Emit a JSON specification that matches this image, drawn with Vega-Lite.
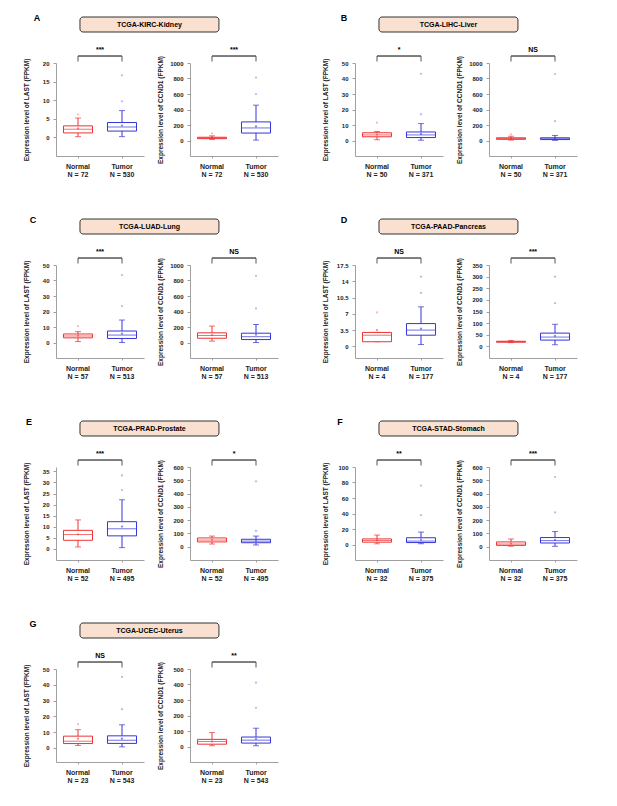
{
"$schema": "https://vega.github.io/schema/vega-lite/v6.json",
"background": "white",
"padding": {"left": 22, "top": 14, "right": 5, "bottom": 5},
"spacing": 39,
"datasets": {
"hdr": [
{"id":"A","title":"TCGA-KIRC-Kidney"},{"id":"B","title":"TCGA-LIHC-Liver"},{"id":"C","title":"TCGA-LUAD-Lung"},{"id":"D","title":"TCGA-PAAD-Pancreas"},{"id":"E","title":"TCGA-PRAD-Prostate"},{"id":"F","title":"TCGA-STAD-Stomach"},{"id":"G","title":"TCGA-UCEC-Uterus"}
],
"stats": [
{"t":"KIRC","gene":"LAST","group":"Normal","lw":0.2,"q1":1.2,"med":2.2,"q3":3.1,"uw":5.2,"mean":2.4,"sig":"***"},
{"t":"KIRC","gene":"LAST","group":"Tumor","lw":0.2,"q1":1.7,"med":2.8,"q3":4.0,"uw":7.2,"mean":3.2,"sig":"***"},
{"t":"KIRC","gene":"CCND1","group":"Normal","lw":12,"q1":24,"med":32,"q3":42,"uw":60,"mean":34,"sig":"***"},
{"t":"KIRC","gene":"CCND1","group":"Tumor","lw":5,"q1":96,"med":162,"q3":240,"uw":456,"mean":182,"sig":"***"},
{"t":"LIHC","gene":"LAST","group":"Normal","lw":0.5,"q1":2.4,"med":3.6,"q3":5.0,"uw":5.8,"mean":3.8,"sig":"*"},
{"t":"LIHC","gene":"LAST","group":"Tumor","lw":0.2,"q1":1.9,"med":3.6,"q3":5.5,"uw":10.9,"mean":4.2,"sig":"*"},
{"t":"LIHC","gene":"CCND1","group":"Normal","lw":5,"q1":15,"med":25,"q3":35,"uw":55,"mean":27,"sig":"NS"},
{"t":"LIHC","gene":"CCND1","group":"Tumor","lw":2,"q1":12,"med":22,"q3":35,"uw":65,"mean":28,"sig":"NS"},
{"t":"LUAD","gene":"LAST","group":"Normal","lw":0.6,"q1":3.0,"med":4.2,"q3":5.5,"uw":7.0,"mean":4.4,"sig":"***"},
{"t":"LUAD","gene":"LAST","group":"Tumor","lw":0,"q1":2.6,"med":4.8,"q3":7.4,"uw":14.5,"mean":5.7,"sig":"***"},
{"t":"LUAD","gene":"CCND1","group":"Normal","lw":18,"q1":55,"med":90,"q3":125,"uw":212,"mean":95,"sig":"NS"},
{"t":"LUAD","gene":"CCND1","group":"Tumor","lw":0,"q1":38,"med":75,"q3":120,"uw":232,"mean":100,"sig":"NS"},
{"t":"PAAD","gene":"LAST","group":"Normal","lw":1.0,"q1":1.0,"med":2.4,"q3":3.0,"uw":3.0,"mean":3.5,"sig":"NS"},
{"t":"PAAD","gene":"LAST","group":"Tumor","lw":0.4,"q1":2.4,"med":3.5,"q3":4.9,"uw":8.5,"mean":3.8,"sig":"NS"},
{"t":"PAAD","gene":"CCND1","group":"Normal","lw":16,"q1":18,"med":20,"q3":22,"uw":25,"mean":20,"sig":"***"},
{"t":"PAAD","gene":"CCND1","group":"Tumor","lw":7,"q1":27,"med":40,"q3":57,"uw":95,"mean":45,"sig":"***"},
{"t":"PRAD","gene":"LAST","group":"Normal","lw":0.9,"q1":3.9,"med":6.5,"q3":8.4,"uw":13.1,"mean":6.6,"sig":"***"},
{"t":"PRAD","gene":"LAST","group":"Tumor","lw":0.6,"q1":5.9,"med":9.1,"q3":12.3,"uw":22.2,"mean":10.1,"sig":"***"},
{"t":"PRAD","gene":"CCND1","group":"Normal","lw":20,"q1":36,"med":50,"q3":66,"uw":80,"mean":52,"sig":"*"},
{"t":"PRAD","gene":"CCND1","group":"Tumor","lw":13,"q1":30,"med":42,"q3":56,"uw":80,"mean":45,"sig":"*"},
{"t":"STAD","gene":"LAST","group":"Normal","lw":0.9,"q1":3.0,"med":5.2,"q3":7.2,"uw":12.2,"mean":5.5,"sig":"**"},
{"t":"STAD","gene":"LAST","group":"Tumor","lw":1.0,"q1":2.5,"med":4.4,"q3":8.7,"uw":16,"mean":6.2,"sig":"**"},
{"t":"STAD","gene":"CCND1","group":"Normal","lw":4,"q1":10,"med":20,"q3":36,"uw":58,"mean":24,"sig":"***"},
{"t":"STAD","gene":"CCND1","group":"Tumor","lw":3,"q1":28,"med":46,"q3":69,"uw":114,"mean":52,"sig":"***"},
{"t":"UCEC","gene":"LAST","group":"Normal","lw":1.5,"q1":2.7,"med":4.2,"q3":7.4,"uw":11.5,"mean":5.8,"sig":"NS"},
{"t":"UCEC","gene":"LAST","group":"Tumor","lw":0.6,"q1":2.8,"med":4.8,"q3":7.6,"uw":14.6,"mean":5.8,"sig":"NS"},
{"t":"UCEC","gene":"CCND1","group":"Normal","lw":5,"q1":15,"med":32,"q3":46,"uw":90,"mean":33,"sig":"**"},
{"t":"UCEC","gene":"CCND1","group":"Tumor","lw":5,"q1":22,"med":41,"q3":61,"uw":118,"mean":48,"sig":"**"}
],
"outl": [
{"t":"KIRC","gene":"LAST","group":"Normal","v":6.2},
{"t":"KIRC","gene":"LAST","group":"Tumor","v":9.7},
{"t":"KIRC","gene":"LAST","group":"Tumor","v":16.7},
{"t":"KIRC","gene":"CCND1","group":"Normal","v":92},
{"t":"KIRC","gene":"CCND1","group":"Tumor","v":600},
{"t":"KIRC","gene":"CCND1","group":"Tumor","v":812},
{"t":"LIHC","gene":"LAST","group":"Normal","v":11.5},
{"t":"LIHC","gene":"LAST","group":"Tumor","v":17},
{"t":"LIHC","gene":"LAST","group":"Tumor","v":43},
{"t":"LIHC","gene":"CCND1","group":"Normal","v":80},
{"t":"LIHC","gene":"CCND1","group":"Tumor","v":250},
{"t":"LIHC","gene":"CCND1","group":"Tumor","v":858},
{"t":"LUAD","gene":"LAST","group":"Normal","v":10.5},
{"t":"LUAD","gene":"LAST","group":"Tumor","v":23.5},
{"t":"LUAD","gene":"LAST","group":"Tumor","v":43.5},
{"t":"LUAD","gene":"CCND1","group":"Tumor","v":440},
{"t":"LUAD","gene":"CCND1","group":"Tumor","v":860},
{"t":"PAAD","gene":"LAST","group":"Normal","v":7.3},
{"t":"PAAD","gene":"LAST","group":"Tumor","v":11.5},
{"t":"PAAD","gene":"LAST","group":"Tumor","v":15},
{"t":"PAAD","gene":"CCND1","group":"Tumor","v":186},
{"t":"PAAD","gene":"CCND1","group":"Tumor","v":300},
{"t":"PRAD","gene":"LAST","group":"Tumor","v":26.6},
{"t":"PRAD","gene":"LAST","group":"Tumor","v":33.2},
{"t":"PRAD","gene":"CCND1","group":"Tumor","v":119},
{"t":"PRAD","gene":"CCND1","group":"Tumor","v":492},
{"t":"STAD","gene":"LAST","group":"Tumor","v":38},
{"t":"STAD","gene":"LAST","group":"Tumor","v":76},
{"t":"STAD","gene":"CCND1","group":"Tumor","v":258},
{"t":"STAD","gene":"CCND1","group":"Tumor","v":524},
{"t":"UCEC","gene":"LAST","group":"Normal","v":15},
{"t":"UCEC","gene":"LAST","group":"Tumor","v":24.5},
{"t":"UCEC","gene":"LAST","group":"Tumor","v":45},
{"t":"UCEC","gene":"CCND1","group":"Tumor","v":250},
{"t":"UCEC","gene":"CCND1","group":"Tumor","v":412}
]
},
"vconcat": [
{"hconcat": [
 {"spacing": 13, "vconcat": [
  {"width":222,"height":15,"data":{"name":"hdr"},"transform":[{"filter":"datum.id=='A'"}],"layer":[
   {"mark":{"type":"rect","fill":"#f9e0d0","stroke":"#333333","strokeWidth":1,"cornerRadius":3},"encoding":{"x":{"datum":0.108,"type":"quantitative","scale":{"domain":[0,1],"nice":false},"axis":null},"x2":{"datum":0.734},"y":{"datum":0,"type":"quantitative","scale":{"domain":[0,1],"nice":false},"axis":null},"y2":{"datum":1}}},
   {"mark":{"type":"text","fontSize":7,"fontWeight":"bold"},"encoding":{"x":{"datum":0.421,"type":"quantitative"},"y":{"datum":0.5,"type":"quantitative"},"text":{"field":"title"}}},
   {"mark":{"type":"text","fontSize":9,"fontWeight":"bold"},"encoding":{"x":{"datum":-0.0856,"type":"quantitative"},"y":{"datum":0.93,"type":"quantitative"},"text":{"field":"id"}}}
  ]},
  {"hconcat": [
   {"width":88,"height":93,"data":{"name":"stats"},"transform":[{"filter":"datum.t=='KIRC' && datum.gene=='LAST'"}],"layer":[
    {"layer":[
     {"mark":{"type":"rule","strokeWidth":1},"encoding":{"x":{"field":"group","type":"nominal","scale":{"domain":["Normal","Tumor"],"paddingInner":0.34,"paddingOuter":0.17},"axis":{"title":null,"labelExpr":"datum.value=='Normal' ? ['Normal','N = 72'] : ['Tumor','N = 530']"}},"y":{"field":"lw","type":"quantitative","scale":{"domain":[-5,20],"nice":false,"zero":false},"axis":{"values":[0,5,10,15,20],"format":".1~f","labelOverlap":false,"tickCount":20,"title":"Expression level of LAST (FPKM)","titleX":-30,"titleBaseline":"middle"}},"y2":{"field":"uw"},"color":{"field":"group","type":"nominal","legend":null}}},
     {"mark":{"type":"tick","size":6,"thickness":1},"encoding":{"x":{"field":"group","type":"nominal"},"y":{"field":"lw","type":"quantitative"},"color":{"field":"group","type":"nominal","legend":null}}},
     {"mark":{"type":"tick","size":6,"thickness":1},"encoding":{"x":{"field":"group","type":"nominal"},"y":{"field":"uw","type":"quantitative"},"color":{"field":"group","type":"nominal","legend":null}}},
     {"mark":{"type":"bar","fill":"white","strokeWidth":1},"encoding":{"x":{"field":"group","type":"nominal"},"y":{"field":"q1","type":"quantitative"},"y2":{"field":"q3"},"stroke":{"field":"group","type":"nominal","legend":null}}},
     {"mark":{"type":"tick","size":29,"thickness":1},"encoding":{"x":{"field":"group","type":"nominal"},"y":{"field":"med","type":"quantitative"},"color":{"field":"group","type":"nominal","legend":null}}},
     {"mark":{"type":"circle","size":5,"opacity":0.6},"encoding":{"x":{"field":"group","type":"nominal"},"y":{"field":"mean","type":"quantitative"},"color":{"field":"group","type":"nominal","legend":null}}},
     {"data":{"name":"outl"},"transform":[{"filter":"datum.t=='KIRC' && datum.gene=='LAST'"}],"mark":{"type":"circle","size":5,"opacity":0.35},"encoding":{"x":{"field":"group","type":"nominal"},"y":{"field":"v","type":"quantitative"},"color":{"field":"group","type":"nominal","legend":null}}}
    ]},
    {"layer":[
     {"mark":{"type":"rule","color":"#555555","strokeWidth":1},"encoding":{"x":{"field":"group","type":"nominal"},"y":{"datum":1.016,"type":"quantitative","scale":{"domain":[0,1],"nice":false},"axis":null},"y2":{"datum":1.075}}},
     {"mark":{"type":"rule","color":"#555555","strokeWidth":1},"encoding":{"x":{"datum":"Normal","type":"nominal"},"x2":{"datum":"Tumor"},"y":{"datum":1.075,"type":"quantitative"}}},
     {"transform":[{"filter":"datum.group=='Normal'"}],"mark":{"type":"text","fontSize":7,"fontWeight":"bold","baseline":"alphabetic"},"encoding":{"y":{"datum":1.115,"type":"quantitative"},"text":{"field":"sig"}}}
    ]}
   ],"resolve":{"scale":{"y":"independent"}}},
   {"width":88,"height":93,"data":{"name":"stats"},"transform":[{"filter":"datum.t=='KIRC' && datum.gene=='CCND1'"}],"layer":[
    {"layer":[
     {"mark":{"type":"rule","strokeWidth":1},"encoding":{"x":{"field":"group","type":"nominal","scale":{"domain":["Normal","Tumor"],"paddingInner":0.34,"paddingOuter":0.17},"axis":{"title":null,"labelExpr":"datum.value=='Normal' ? ['Normal','N = 72'] : ['Tumor','N = 530']"}},"y":{"field":"lw","type":"quantitative","scale":{"domain":[-200,1000],"nice":false,"zero":false},"axis":{"values":[0,200,400,600,800,1000],"format":".1~f","labelOverlap":false,"tickCount":20,"title":"Expression level of CCND1 (FPKM)","titleX":-30,"titleBaseline":"middle"}},"y2":{"field":"uw"},"color":{"field":"group","type":"nominal","legend":null}}},
     {"mark":{"type":"tick","size":6,"thickness":1},"encoding":{"x":{"field":"group","type":"nominal"},"y":{"field":"lw","type":"quantitative"},"color":{"field":"group","type":"nominal","legend":null}}},
     {"mark":{"type":"tick","size":6,"thickness":1},"encoding":{"x":{"field":"group","type":"nominal"},"y":{"field":"uw","type":"quantitative"},"color":{"field":"group","type":"nominal","legend":null}}},
     {"mark":{"type":"bar","fill":"white","strokeWidth":1},"encoding":{"x":{"field":"group","type":"nominal"},"y":{"field":"q1","type":"quantitative"},"y2":{"field":"q3"},"stroke":{"field":"group","type":"nominal","legend":null}}},
     {"mark":{"type":"tick","size":29,"thickness":1},"encoding":{"x":{"field":"group","type":"nominal"},"y":{"field":"med","type":"quantitative"},"color":{"field":"group","type":"nominal","legend":null}}},
     {"mark":{"type":"circle","size":5,"opacity":0.6},"encoding":{"x":{"field":"group","type":"nominal"},"y":{"field":"mean","type":"quantitative"},"color":{"field":"group","type":"nominal","legend":null}}},
     {"data":{"name":"outl"},"transform":[{"filter":"datum.t=='KIRC' && datum.gene=='CCND1'"}],"mark":{"type":"circle","size":5,"opacity":0.35},"encoding":{"x":{"field":"group","type":"nominal"},"y":{"field":"v","type":"quantitative"},"color":{"field":"group","type":"nominal","legend":null}}}
    ]},
    {"layer":[
     {"mark":{"type":"rule","color":"#555555","strokeWidth":1},"encoding":{"x":{"field":"group","type":"nominal"},"y":{"datum":1.016,"type":"quantitative","scale":{"domain":[0,1],"nice":false},"axis":null},"y2":{"datum":1.075}}},
     {"mark":{"type":"rule","color":"#555555","strokeWidth":1},"encoding":{"x":{"datum":"Normal","type":"nominal"},"x2":{"datum":"Tumor"},"y":{"datum":1.075,"type":"quantitative"}}},
     {"transform":[{"filter":"datum.group=='Normal'"}],"mark":{"type":"text","fontSize":7,"fontWeight":"bold","baseline":"alphabetic"},"encoding":{"y":{"datum":1.115,"type":"quantitative"},"text":{"field":"sig"}}}
    ]}
   ],"resolve":{"scale":{"y":"independent"}}}
  ], "spacing": 46, "bounds": "flush"}
 ]},
 {"spacing": 13, "vconcat": [
  {"width":222,"height":15,"data":{"name":"hdr"},"transform":[{"filter":"datum.id=='B'"}],"layer":[
   {"mark":{"type":"rect","fill":"#f9e0d0","stroke":"#333333","strokeWidth":1,"cornerRadius":3},"encoding":{"x":{"datum":0.108,"type":"quantitative","scale":{"domain":[0,1],"nice":false},"axis":null},"x2":{"datum":0.734},"y":{"datum":0,"type":"quantitative","scale":{"domain":[0,1],"nice":false},"axis":null},"y2":{"datum":1}}},
   {"mark":{"type":"text","fontSize":7,"fontWeight":"bold"},"encoding":{"x":{"datum":0.421,"type":"quantitative"},"y":{"datum":0.5,"type":"quantitative"},"text":{"field":"title"}}},
   {"mark":{"type":"text","fontSize":9,"fontWeight":"bold"},"encoding":{"x":{"datum":-0.0495,"type":"quantitative"},"y":{"datum":0.93,"type":"quantitative"},"text":{"field":"id"}}}
  ]},
  {"hconcat": [
   {"width":88,"height":93,"data":{"name":"stats"},"transform":[{"filter":"datum.t=='LIHC' && datum.gene=='LAST'"}],"layer":[
    {"layer":[
     {"mark":{"type":"rule","strokeWidth":1},"encoding":{"x":{"field":"group","type":"nominal","scale":{"domain":["Normal","Tumor"],"paddingInner":0.34,"paddingOuter":0.17},"axis":{"title":null,"labelExpr":"datum.value=='Normal' ? ['Normal','N = 50'] : ['Tumor','N = 371']"}},"y":{"field":"lw","type":"quantitative","scale":{"domain":[-10,50],"nice":false,"zero":false},"axis":{"values":[0,10,20,30,40,50],"format":".1~f","labelOverlap":false,"tickCount":20,"title":"Expression level of LAST (FPKM)","titleX":-30,"titleBaseline":"middle"}},"y2":{"field":"uw"},"color":{"field":"group","type":"nominal","legend":null}}},
     {"mark":{"type":"tick","size":6,"thickness":1},"encoding":{"x":{"field":"group","type":"nominal"},"y":{"field":"lw","type":"quantitative"},"color":{"field":"group","type":"nominal","legend":null}}},
     {"mark":{"type":"tick","size":6,"thickness":1},"encoding":{"x":{"field":"group","type":"nominal"},"y":{"field":"uw","type":"quantitative"},"color":{"field":"group","type":"nominal","legend":null}}},
     {"mark":{"type":"bar","fill":"white","strokeWidth":1},"encoding":{"x":{"field":"group","type":"nominal"},"y":{"field":"q1","type":"quantitative"},"y2":{"field":"q3"},"stroke":{"field":"group","type":"nominal","legend":null}}},
     {"mark":{"type":"tick","size":29,"thickness":1},"encoding":{"x":{"field":"group","type":"nominal"},"y":{"field":"med","type":"quantitative"},"color":{"field":"group","type":"nominal","legend":null}}},
     {"mark":{"type":"circle","size":5,"opacity":0.6},"encoding":{"x":{"field":"group","type":"nominal"},"y":{"field":"mean","type":"quantitative"},"color":{"field":"group","type":"nominal","legend":null}}},
     {"data":{"name":"outl"},"transform":[{"filter":"datum.t=='LIHC' && datum.gene=='LAST'"}],"mark":{"type":"circle","size":5,"opacity":0.35},"encoding":{"x":{"field":"group","type":"nominal"},"y":{"field":"v","type":"quantitative"},"color":{"field":"group","type":"nominal","legend":null}}}
    ]},
    {"layer":[
     {"mark":{"type":"rule","color":"#555555","strokeWidth":1},"encoding":{"x":{"field":"group","type":"nominal"},"y":{"datum":1.016,"type":"quantitative","scale":{"domain":[0,1],"nice":false},"axis":null},"y2":{"datum":1.075}}},
     {"mark":{"type":"rule","color":"#555555","strokeWidth":1},"encoding":{"x":{"datum":"Normal","type":"nominal"},"x2":{"datum":"Tumor"},"y":{"datum":1.075,"type":"quantitative"}}},
     {"transform":[{"filter":"datum.group=='Normal'"}],"mark":{"type":"text","fontSize":7,"fontWeight":"bold","baseline":"alphabetic"},"encoding":{"y":{"datum":1.115,"type":"quantitative"},"text":{"field":"sig"}}}
    ]}
   ],"resolve":{"scale":{"y":"independent"}}},
   {"width":88,"height":93,"data":{"name":"stats"},"transform":[{"filter":"datum.t=='LIHC' && datum.gene=='CCND1'"}],"layer":[
    {"layer":[
     {"mark":{"type":"rule","strokeWidth":1},"encoding":{"x":{"field":"group","type":"nominal","scale":{"domain":["Normal","Tumor"],"paddingInner":0.34,"paddingOuter":0.17},"axis":{"title":null,"labelExpr":"datum.value=='Normal' ? ['Normal','N = 50'] : ['Tumor','N = 371']"}},"y":{"field":"lw","type":"quantitative","scale":{"domain":[-200,1000],"nice":false,"zero":false},"axis":{"values":[0,200,400,600,800,1000],"format":".1~f","labelOverlap":false,"tickCount":20,"title":"Expression level of CCND1 (FPKM)","titleX":-30,"titleBaseline":"middle"}},"y2":{"field":"uw"},"color":{"field":"group","type":"nominal","legend":null}}},
     {"mark":{"type":"tick","size":6,"thickness":1},"encoding":{"x":{"field":"group","type":"nominal"},"y":{"field":"lw","type":"quantitative"},"color":{"field":"group","type":"nominal","legend":null}}},
     {"mark":{"type":"tick","size":6,"thickness":1},"encoding":{"x":{"field":"group","type":"nominal"},"y":{"field":"uw","type":"quantitative"},"color":{"field":"group","type":"nominal","legend":null}}},
     {"mark":{"type":"bar","fill":"white","strokeWidth":1},"encoding":{"x":{"field":"group","type":"nominal"},"y":{"field":"q1","type":"quantitative"},"y2":{"field":"q3"},"stroke":{"field":"group","type":"nominal","legend":null}}},
     {"mark":{"type":"tick","size":29,"thickness":1},"encoding":{"x":{"field":"group","type":"nominal"},"y":{"field":"med","type":"quantitative"},"color":{"field":"group","type":"nominal","legend":null}}},
     {"mark":{"type":"circle","size":5,"opacity":0.6},"encoding":{"x":{"field":"group","type":"nominal"},"y":{"field":"mean","type":"quantitative"},"color":{"field":"group","type":"nominal","legend":null}}},
     {"data":{"name":"outl"},"transform":[{"filter":"datum.t=='LIHC' && datum.gene=='CCND1'"}],"mark":{"type":"circle","size":5,"opacity":0.35},"encoding":{"x":{"field":"group","type":"nominal"},"y":{"field":"v","type":"quantitative"},"color":{"field":"group","type":"nominal","legend":null}}}
    ]},
    {"layer":[
     {"mark":{"type":"rule","color":"#555555","strokeWidth":1},"encoding":{"x":{"field":"group","type":"nominal"},"y":{"datum":1.016,"type":"quantitative","scale":{"domain":[0,1],"nice":false},"axis":null},"y2":{"datum":1.075}}},
     {"mark":{"type":"rule","color":"#555555","strokeWidth":1},"encoding":{"x":{"datum":"Normal","type":"nominal"},"x2":{"datum":"Tumor"},"y":{"datum":1.075,"type":"quantitative"}}},
     {"transform":[{"filter":"datum.group=='Normal'"}],"mark":{"type":"text","fontSize":7,"fontWeight":"bold","baseline":"alphabetic"},"encoding":{"y":{"datum":1.115,"type":"quantitative"},"text":{"field":"sig"}}}
    ]}
   ],"resolve":{"scale":{"y":"independent"}}}
  ], "spacing": 46, "bounds": "flush"}
 ]}
], "spacing": 43},
{"hconcat": [
 {"spacing": 13, "vconcat": [
  {"width":222,"height":15,"data":{"name":"hdr"},"transform":[{"filter":"datum.id=='C'"}],"layer":[
   {"mark":{"type":"rect","fill":"#f9e0d0","stroke":"#333333","strokeWidth":1,"cornerRadius":3},"encoding":{"x":{"datum":0.108,"type":"quantitative","scale":{"domain":[0,1],"nice":false},"axis":null},"x2":{"datum":0.734},"y":{"datum":0,"type":"quantitative","scale":{"domain":[0,1],"nice":false},"axis":null},"y2":{"datum":1}}},
   {"mark":{"type":"text","fontSize":7,"fontWeight":"bold"},"encoding":{"x":{"datum":0.421,"type":"quantitative"},"y":{"datum":0.5,"type":"quantitative"},"text":{"field":"title"}}},
   {"mark":{"type":"text","fontSize":9,"fontWeight":"bold"},"encoding":{"x":{"datum":-0.1036,"type":"quantitative"},"y":{"datum":0.93,"type":"quantitative"},"text":{"field":"id"}}}
  ]},
  {"hconcat": [
   {"width":88,"height":93,"data":{"name":"stats"},"transform":[{"filter":"datum.t=='LUAD' && datum.gene=='LAST'"}],"layer":[
    {"layer":[
     {"mark":{"type":"rule","strokeWidth":1},"encoding":{"x":{"field":"group","type":"nominal","scale":{"domain":["Normal","Tumor"],"paddingInner":0.34,"paddingOuter":0.17},"axis":{"title":null,"labelExpr":"datum.value=='Normal' ? ['Normal','N = 57'] : ['Tumor','N = 513']"}},"y":{"field":"lw","type":"quantitative","scale":{"domain":[-10,50],"nice":false,"zero":false},"axis":{"values":[0,10,20,30,40,50],"format":".1~f","labelOverlap":false,"tickCount":20,"title":"Expression level of LAST (FPKM)","titleX":-30,"titleBaseline":"middle"}},"y2":{"field":"uw"},"color":{"field":"group","type":"nominal","legend":null}}},
     {"mark":{"type":"tick","size":6,"thickness":1},"encoding":{"x":{"field":"group","type":"nominal"},"y":{"field":"lw","type":"quantitative"},"color":{"field":"group","type":"nominal","legend":null}}},
     {"mark":{"type":"tick","size":6,"thickness":1},"encoding":{"x":{"field":"group","type":"nominal"},"y":{"field":"uw","type":"quantitative"},"color":{"field":"group","type":"nominal","legend":null}}},
     {"mark":{"type":"bar","fill":"white","strokeWidth":1},"encoding":{"x":{"field":"group","type":"nominal"},"y":{"field":"q1","type":"quantitative"},"y2":{"field":"q3"},"stroke":{"field":"group","type":"nominal","legend":null}}},
     {"mark":{"type":"tick","size":29,"thickness":1},"encoding":{"x":{"field":"group","type":"nominal"},"y":{"field":"med","type":"quantitative"},"color":{"field":"group","type":"nominal","legend":null}}},
     {"mark":{"type":"circle","size":5,"opacity":0.6},"encoding":{"x":{"field":"group","type":"nominal"},"y":{"field":"mean","type":"quantitative"},"color":{"field":"group","type":"nominal","legend":null}}},
     {"data":{"name":"outl"},"transform":[{"filter":"datum.t=='LUAD' && datum.gene=='LAST'"}],"mark":{"type":"circle","size":5,"opacity":0.35},"encoding":{"x":{"field":"group","type":"nominal"},"y":{"field":"v","type":"quantitative"},"color":{"field":"group","type":"nominal","legend":null}}}
    ]},
    {"layer":[
     {"mark":{"type":"rule","color":"#555555","strokeWidth":1},"encoding":{"x":{"field":"group","type":"nominal"},"y":{"datum":1.016,"type":"quantitative","scale":{"domain":[0,1],"nice":false},"axis":null},"y2":{"datum":1.075}}},
     {"mark":{"type":"rule","color":"#555555","strokeWidth":1},"encoding":{"x":{"datum":"Normal","type":"nominal"},"x2":{"datum":"Tumor"},"y":{"datum":1.075,"type":"quantitative"}}},
     {"transform":[{"filter":"datum.group=='Normal'"}],"mark":{"type":"text","fontSize":7,"fontWeight":"bold","baseline":"alphabetic"},"encoding":{"y":{"datum":1.115,"type":"quantitative"},"text":{"field":"sig"}}}
    ]}
   ],"resolve":{"scale":{"y":"independent"}}},
   {"width":88,"height":93,"data":{"name":"stats"},"transform":[{"filter":"datum.t=='LUAD' && datum.gene=='CCND1'"}],"layer":[
    {"layer":[
     {"mark":{"type":"rule","strokeWidth":1},"encoding":{"x":{"field":"group","type":"nominal","scale":{"domain":["Normal","Tumor"],"paddingInner":0.34,"paddingOuter":0.17},"axis":{"title":null,"labelExpr":"datum.value=='Normal' ? ['Normal','N = 57'] : ['Tumor','N = 513']"}},"y":{"field":"lw","type":"quantitative","scale":{"domain":[-200,1000],"nice":false,"zero":false},"axis":{"values":[0,200,400,600,800,1000],"format":".1~f","labelOverlap":false,"tickCount":20,"title":"Expression level of CCND1 (FPKM)","titleX":-30,"titleBaseline":"middle"}},"y2":{"field":"uw"},"color":{"field":"group","type":"nominal","legend":null}}},
     {"mark":{"type":"tick","size":6,"thickness":1},"encoding":{"x":{"field":"group","type":"nominal"},"y":{"field":"lw","type":"quantitative"},"color":{"field":"group","type":"nominal","legend":null}}},
     {"mark":{"type":"tick","size":6,"thickness":1},"encoding":{"x":{"field":"group","type":"nominal"},"y":{"field":"uw","type":"quantitative"},"color":{"field":"group","type":"nominal","legend":null}}},
     {"mark":{"type":"bar","fill":"white","strokeWidth":1},"encoding":{"x":{"field":"group","type":"nominal"},"y":{"field":"q1","type":"quantitative"},"y2":{"field":"q3"},"stroke":{"field":"group","type":"nominal","legend":null}}},
     {"mark":{"type":"tick","size":29,"thickness":1},"encoding":{"x":{"field":"group","type":"nominal"},"y":{"field":"med","type":"quantitative"},"color":{"field":"group","type":"nominal","legend":null}}},
     {"mark":{"type":"circle","size":5,"opacity":0.6},"encoding":{"x":{"field":"group","type":"nominal"},"y":{"field":"mean","type":"quantitative"},"color":{"field":"group","type":"nominal","legend":null}}},
     {"data":{"name":"outl"},"transform":[{"filter":"datum.t=='LUAD' && datum.gene=='CCND1'"}],"mark":{"type":"circle","size":5,"opacity":0.35},"encoding":{"x":{"field":"group","type":"nominal"},"y":{"field":"v","type":"quantitative"},"color":{"field":"group","type":"nominal","legend":null}}}
    ]},
    {"layer":[
     {"mark":{"type":"rule","color":"#555555","strokeWidth":1},"encoding":{"x":{"field":"group","type":"nominal"},"y":{"datum":1.016,"type":"quantitative","scale":{"domain":[0,1],"nice":false},"axis":null},"y2":{"datum":1.075}}},
     {"mark":{"type":"rule","color":"#555555","strokeWidth":1},"encoding":{"x":{"datum":"Normal","type":"nominal"},"x2":{"datum":"Tumor"},"y":{"datum":1.075,"type":"quantitative"}}},
     {"transform":[{"filter":"datum.group=='Normal'"}],"mark":{"type":"text","fontSize":7,"fontWeight":"bold","baseline":"alphabetic"},"encoding":{"y":{"datum":1.115,"type":"quantitative"},"text":{"field":"sig"}}}
    ]}
   ],"resolve":{"scale":{"y":"independent"}}}
  ], "spacing": 46, "bounds": "flush"}
 ]},
 {"spacing": 13, "vconcat": [
  {"width":222,"height":15,"data":{"name":"hdr"},"transform":[{"filter":"datum.id=='D'"}],"layer":[
   {"mark":{"type":"rect","fill":"#f9e0d0","stroke":"#333333","strokeWidth":1,"cornerRadius":3},"encoding":{"x":{"datum":0.108,"type":"quantitative","scale":{"domain":[0,1],"nice":false},"axis":null},"x2":{"datum":0.734},"y":{"datum":0,"type":"quantitative","scale":{"domain":[0,1],"nice":false},"axis":null},"y2":{"datum":1}}},
   {"mark":{"type":"text","fontSize":7,"fontWeight":"bold"},"encoding":{"x":{"datum":0.421,"type":"quantitative"},"y":{"datum":0.5,"type":"quantitative"},"text":{"field":"title"}}},
   {"mark":{"type":"text","fontSize":9,"fontWeight":"bold"},"encoding":{"x":{"datum":-0.0495,"type":"quantitative"},"y":{"datum":0.93,"type":"quantitative"},"text":{"field":"id"}}}
  ]},
  {"hconcat": [
   {"width":88,"height":93,"data":{"name":"stats"},"transform":[{"filter":"datum.t=='PAAD' && datum.gene=='LAST'"}],"layer":[
    {"layer":[
     {"mark":{"type":"rule","strokeWidth":1},"encoding":{"x":{"field":"group","type":"nominal","scale":{"domain":["Normal","Tumor"],"paddingInner":0.34,"paddingOuter":0.17},"axis":{"title":null,"labelExpr":"datum.value=='Normal' ? ['Normal','N = 4'] : ['Tumor','N = 177']"}},"y":{"field":"lw","type":"quantitative","scale":{"domain":[-2.5,17.5],"nice":false,"zero":false},"axis":{"values":[0,3.5,7,10.5,14,17.5],"format":".1~f","labelOverlap":false,"tickCount":20,"title":"Expression level of LAST (FPKM)","titleX":-30,"titleBaseline":"middle"}},"y2":{"field":"uw"},"color":{"field":"group","type":"nominal","legend":null}}},
     {"mark":{"type":"tick","size":6,"thickness":1},"encoding":{"x":{"field":"group","type":"nominal"},"y":{"field":"lw","type":"quantitative"},"color":{"field":"group","type":"nominal","legend":null}}},
     {"mark":{"type":"tick","size":6,"thickness":1},"encoding":{"x":{"field":"group","type":"nominal"},"y":{"field":"uw","type":"quantitative"},"color":{"field":"group","type":"nominal","legend":null}}},
     {"mark":{"type":"bar","fill":"white","strokeWidth":1},"encoding":{"x":{"field":"group","type":"nominal"},"y":{"field":"q1","type":"quantitative"},"y2":{"field":"q3"},"stroke":{"field":"group","type":"nominal","legend":null}}},
     {"mark":{"type":"tick","size":29,"thickness":1},"encoding":{"x":{"field":"group","type":"nominal"},"y":{"field":"med","type":"quantitative"},"color":{"field":"group","type":"nominal","legend":null}}},
     {"mark":{"type":"circle","size":5,"opacity":0.6},"encoding":{"x":{"field":"group","type":"nominal"},"y":{"field":"mean","type":"quantitative"},"color":{"field":"group","type":"nominal","legend":null}}},
     {"data":{"name":"outl"},"transform":[{"filter":"datum.t=='PAAD' && datum.gene=='LAST'"}],"mark":{"type":"circle","size":5,"opacity":0.35},"encoding":{"x":{"field":"group","type":"nominal"},"y":{"field":"v","type":"quantitative"},"color":{"field":"group","type":"nominal","legend":null}}}
    ]},
    {"layer":[
     {"mark":{"type":"rule","color":"#555555","strokeWidth":1},"encoding":{"x":{"field":"group","type":"nominal"},"y":{"datum":1.016,"type":"quantitative","scale":{"domain":[0,1],"nice":false},"axis":null},"y2":{"datum":1.075}}},
     {"mark":{"type":"rule","color":"#555555","strokeWidth":1},"encoding":{"x":{"datum":"Normal","type":"nominal"},"x2":{"datum":"Tumor"},"y":{"datum":1.075,"type":"quantitative"}}},
     {"transform":[{"filter":"datum.group=='Normal'"}],"mark":{"type":"text","fontSize":7,"fontWeight":"bold","baseline":"alphabetic"},"encoding":{"y":{"datum":1.115,"type":"quantitative"},"text":{"field":"sig"}}}
    ]}
   ],"resolve":{"scale":{"y":"independent"}}},
   {"width":88,"height":93,"data":{"name":"stats"},"transform":[{"filter":"datum.t=='PAAD' && datum.gene=='CCND1'"}],"layer":[
    {"layer":[
     {"mark":{"type":"rule","strokeWidth":1},"encoding":{"x":{"field":"group","type":"nominal","scale":{"domain":["Normal","Tumor"],"paddingInner":0.34,"paddingOuter":0.17},"axis":{"title":null,"labelExpr":"datum.value=='Normal' ? ['Normal','N = 4'] : ['Tumor','N = 177']"}},"y":{"field":"lw","type":"quantitative","scale":{"domain":[-50,350],"nice":false,"zero":false},"axis":{"values":[0,50,100,150,200,250,300,350],"format":".1~f","labelOverlap":false,"tickCount":20,"title":"Expression level of CCND1 (FPKM)","titleX":-30,"titleBaseline":"middle"}},"y2":{"field":"uw"},"color":{"field":"group","type":"nominal","legend":null}}},
     {"mark":{"type":"tick","size":6,"thickness":1},"encoding":{"x":{"field":"group","type":"nominal"},"y":{"field":"lw","type":"quantitative"},"color":{"field":"group","type":"nominal","legend":null}}},
     {"mark":{"type":"tick","size":6,"thickness":1},"encoding":{"x":{"field":"group","type":"nominal"},"y":{"field":"uw","type":"quantitative"},"color":{"field":"group","type":"nominal","legend":null}}},
     {"mark":{"type":"bar","fill":"white","strokeWidth":1},"encoding":{"x":{"field":"group","type":"nominal"},"y":{"field":"q1","type":"quantitative"},"y2":{"field":"q3"},"stroke":{"field":"group","type":"nominal","legend":null}}},
     {"mark":{"type":"tick","size":29,"thickness":1},"encoding":{"x":{"field":"group","type":"nominal"},"y":{"field":"med","type":"quantitative"},"color":{"field":"group","type":"nominal","legend":null}}},
     {"mark":{"type":"circle","size":5,"opacity":0.6},"encoding":{"x":{"field":"group","type":"nominal"},"y":{"field":"mean","type":"quantitative"},"color":{"field":"group","type":"nominal","legend":null}}},
     {"data":{"name":"outl"},"transform":[{"filter":"datum.t=='PAAD' && datum.gene=='CCND1'"}],"mark":{"type":"circle","size":5,"opacity":0.35},"encoding":{"x":{"field":"group","type":"nominal"},"y":{"field":"v","type":"quantitative"},"color":{"field":"group","type":"nominal","legend":null}}}
    ]},
    {"layer":[
     {"mark":{"type":"rule","color":"#555555","strokeWidth":1},"encoding":{"x":{"field":"group","type":"nominal"},"y":{"datum":1.016,"type":"quantitative","scale":{"domain":[0,1],"nice":false},"axis":null},"y2":{"datum":1.075}}},
     {"mark":{"type":"rule","color":"#555555","strokeWidth":1},"encoding":{"x":{"datum":"Normal","type":"nominal"},"x2":{"datum":"Tumor"},"y":{"datum":1.075,"type":"quantitative"}}},
     {"transform":[{"filter":"datum.group=='Normal'"}],"mark":{"type":"text","fontSize":7,"fontWeight":"bold","baseline":"alphabetic"},"encoding":{"y":{"datum":1.115,"type":"quantitative"},"text":{"field":"sig"}}}
    ]}
   ],"resolve":{"scale":{"y":"independent"}}}
  ], "spacing": 46, "bounds": "flush"}
 ]}
], "spacing": 43},
{"hconcat": [
 {"spacing": 13, "vconcat": [
  {"width":222,"height":15,"data":{"name":"hdr"},"transform":[{"filter":"datum.id=='E'"}],"layer":[
   {"mark":{"type":"rect","fill":"#f9e0d0","stroke":"#333333","strokeWidth":1,"cornerRadius":3},"encoding":{"x":{"datum":0.108,"type":"quantitative","scale":{"domain":[0,1],"nice":false},"axis":null},"x2":{"datum":0.734},"y":{"datum":0,"type":"quantitative","scale":{"domain":[0,1],"nice":false},"axis":null},"y2":{"datum":1}}},
   {"mark":{"type":"text","fontSize":7,"fontWeight":"bold"},"encoding":{"x":{"datum":0.421,"type":"quantitative"},"y":{"datum":0.5,"type":"quantitative"},"text":{"field":"title"}}},
   {"mark":{"type":"text","fontSize":9,"fontWeight":"bold"},"encoding":{"x":{"datum":-0.1216,"type":"quantitative"},"y":{"datum":0.93,"type":"quantitative"},"text":{"field":"id"}}}
  ]},
  {"hconcat": [
   {"width":88,"height":93,"data":{"name":"stats"},"transform":[{"filter":"datum.t=='PRAD' && datum.gene=='LAST'"}],"layer":[
    {"layer":[
     {"mark":{"type":"rule","strokeWidth":1},"encoding":{"x":{"field":"group","type":"nominal","scale":{"domain":["Normal","Tumor"],"paddingInner":0.34,"paddingOuter":0.17},"axis":{"title":null,"labelExpr":"datum.value=='Normal' ? ['Normal','N = 52'] : ['Tumor','N = 495']"}},"y":{"field":"lw","type":"quantitative","scale":{"domain":[-5,37],"nice":false,"zero":false},"axis":{"values":[0,5,10,15,20,25,30,35],"format":".1~f","labelOverlap":false,"tickCount":20,"title":"Expression level of LAST (FPKM)","titleX":-30,"titleBaseline":"middle"}},"y2":{"field":"uw"},"color":{"field":"group","type":"nominal","legend":null}}},
     {"mark":{"type":"tick","size":6,"thickness":1},"encoding":{"x":{"field":"group","type":"nominal"},"y":{"field":"lw","type":"quantitative"},"color":{"field":"group","type":"nominal","legend":null}}},
     {"mark":{"type":"tick","size":6,"thickness":1},"encoding":{"x":{"field":"group","type":"nominal"},"y":{"field":"uw","type":"quantitative"},"color":{"field":"group","type":"nominal","legend":null}}},
     {"mark":{"type":"bar","fill":"white","strokeWidth":1},"encoding":{"x":{"field":"group","type":"nominal"},"y":{"field":"q1","type":"quantitative"},"y2":{"field":"q3"},"stroke":{"field":"group","type":"nominal","legend":null}}},
     {"mark":{"type":"tick","size":29,"thickness":1},"encoding":{"x":{"field":"group","type":"nominal"},"y":{"field":"med","type":"quantitative"},"color":{"field":"group","type":"nominal","legend":null}}},
     {"mark":{"type":"circle","size":5,"opacity":0.6},"encoding":{"x":{"field":"group","type":"nominal"},"y":{"field":"mean","type":"quantitative"},"color":{"field":"group","type":"nominal","legend":null}}},
     {"data":{"name":"outl"},"transform":[{"filter":"datum.t=='PRAD' && datum.gene=='LAST'"}],"mark":{"type":"circle","size":5,"opacity":0.35},"encoding":{"x":{"field":"group","type":"nominal"},"y":{"field":"v","type":"quantitative"},"color":{"field":"group","type":"nominal","legend":null}}}
    ]},
    {"layer":[
     {"mark":{"type":"rule","color":"#555555","strokeWidth":1},"encoding":{"x":{"field":"group","type":"nominal"},"y":{"datum":1.016,"type":"quantitative","scale":{"domain":[0,1],"nice":false},"axis":null},"y2":{"datum":1.075}}},
     {"mark":{"type":"rule","color":"#555555","strokeWidth":1},"encoding":{"x":{"datum":"Normal","type":"nominal"},"x2":{"datum":"Tumor"},"y":{"datum":1.075,"type":"quantitative"}}},
     {"transform":[{"filter":"datum.group=='Normal'"}],"mark":{"type":"text","fontSize":7,"fontWeight":"bold","baseline":"alphabetic"},"encoding":{"y":{"datum":1.115,"type":"quantitative"},"text":{"field":"sig"}}}
    ]}
   ],"resolve":{"scale":{"y":"independent"}}},
   {"width":88,"height":93,"data":{"name":"stats"},"transform":[{"filter":"datum.t=='PRAD' && datum.gene=='CCND1'"}],"layer":[
    {"layer":[
     {"mark":{"type":"rule","strokeWidth":1},"encoding":{"x":{"field":"group","type":"nominal","scale":{"domain":["Normal","Tumor"],"paddingInner":0.34,"paddingOuter":0.17},"axis":{"title":null,"labelExpr":"datum.value=='Normal' ? ['Normal','N = 52'] : ['Tumor','N = 495']"}},"y":{"field":"lw","type":"quantitative","scale":{"domain":[-100,600],"nice":false,"zero":false},"axis":{"values":[0,100,200,300,400,500,600],"format":".1~f","labelOverlap":false,"tickCount":20,"title":"Expression level of CCND1 (FPKM)","titleX":-30,"titleBaseline":"middle"}},"y2":{"field":"uw"},"color":{"field":"group","type":"nominal","legend":null}}},
     {"mark":{"type":"tick","size":6,"thickness":1},"encoding":{"x":{"field":"group","type":"nominal"},"y":{"field":"lw","type":"quantitative"},"color":{"field":"group","type":"nominal","legend":null}}},
     {"mark":{"type":"tick","size":6,"thickness":1},"encoding":{"x":{"field":"group","type":"nominal"},"y":{"field":"uw","type":"quantitative"},"color":{"field":"group","type":"nominal","legend":null}}},
     {"mark":{"type":"bar","fill":"white","strokeWidth":1},"encoding":{"x":{"field":"group","type":"nominal"},"y":{"field":"q1","type":"quantitative"},"y2":{"field":"q3"},"stroke":{"field":"group","type":"nominal","legend":null}}},
     {"mark":{"type":"tick","size":29,"thickness":1},"encoding":{"x":{"field":"group","type":"nominal"},"y":{"field":"med","type":"quantitative"},"color":{"field":"group","type":"nominal","legend":null}}},
     {"mark":{"type":"circle","size":5,"opacity":0.6},"encoding":{"x":{"field":"group","type":"nominal"},"y":{"field":"mean","type":"quantitative"},"color":{"field":"group","type":"nominal","legend":null}}},
     {"data":{"name":"outl"},"transform":[{"filter":"datum.t=='PRAD' && datum.gene=='CCND1'"}],"mark":{"type":"circle","size":5,"opacity":0.35},"encoding":{"x":{"field":"group","type":"nominal"},"y":{"field":"v","type":"quantitative"},"color":{"field":"group","type":"nominal","legend":null}}}
    ]},
    {"layer":[
     {"mark":{"type":"rule","color":"#555555","strokeWidth":1},"encoding":{"x":{"field":"group","type":"nominal"},"y":{"datum":1.016,"type":"quantitative","scale":{"domain":[0,1],"nice":false},"axis":null},"y2":{"datum":1.075}}},
     {"mark":{"type":"rule","color":"#555555","strokeWidth":1},"encoding":{"x":{"datum":"Normal","type":"nominal"},"x2":{"datum":"Tumor"},"y":{"datum":1.075,"type":"quantitative"}}},
     {"transform":[{"filter":"datum.group=='Normal'"}],"mark":{"type":"text","fontSize":7,"fontWeight":"bold","baseline":"alphabetic"},"encoding":{"y":{"datum":1.115,"type":"quantitative"},"text":{"field":"sig"}}}
    ]}
   ],"resolve":{"scale":{"y":"independent"}}}
  ], "spacing": 46, "bounds": "flush"}
 ]},
 {"spacing": 13, "vconcat": [
  {"width":222,"height":15,"data":{"name":"hdr"},"transform":[{"filter":"datum.id=='F'"}],"layer":[
   {"mark":{"type":"rect","fill":"#f9e0d0","stroke":"#333333","strokeWidth":1,"cornerRadius":3},"encoding":{"x":{"datum":0.108,"type":"quantitative","scale":{"domain":[0,1],"nice":false},"axis":null},"x2":{"datum":0.734},"y":{"datum":0,"type":"quantitative","scale":{"domain":[0,1],"nice":false},"axis":null},"y2":{"datum":1}}},
   {"mark":{"type":"text","fontSize":7,"fontWeight":"bold"},"encoding":{"x":{"datum":0.421,"type":"quantitative"},"y":{"datum":0.5,"type":"quantitative"},"text":{"field":"title"}}},
   {"mark":{"type":"text","fontSize":9,"fontWeight":"bold"},"encoding":{"x":{"datum":-0.0676,"type":"quantitative"},"y":{"datum":0.93,"type":"quantitative"},"text":{"field":"id"}}}
  ]},
  {"hconcat": [
   {"width":88,"height":93,"data":{"name":"stats"},"transform":[{"filter":"datum.t=='STAD' && datum.gene=='LAST'"}],"layer":[
    {"layer":[
     {"mark":{"type":"rule","strokeWidth":1},"encoding":{"x":{"field":"group","type":"nominal","scale":{"domain":["Normal","Tumor"],"paddingInner":0.34,"paddingOuter":0.17},"axis":{"title":null,"labelExpr":"datum.value=='Normal' ? ['Normal','N = 32'] : ['Tumor','N = 375']"}},"y":{"field":"lw","type":"quantitative","scale":{"domain":[-20,100],"nice":false,"zero":false},"axis":{"values":[0,20,40,60,80,100],"format":".1~f","labelOverlap":false,"tickCount":20,"title":"Expression level of LAST (FPKM)","titleX":-30,"titleBaseline":"middle"}},"y2":{"field":"uw"},"color":{"field":"group","type":"nominal","legend":null}}},
     {"mark":{"type":"tick","size":6,"thickness":1},"encoding":{"x":{"field":"group","type":"nominal"},"y":{"field":"lw","type":"quantitative"},"color":{"field":"group","type":"nominal","legend":null}}},
     {"mark":{"type":"tick","size":6,"thickness":1},"encoding":{"x":{"field":"group","type":"nominal"},"y":{"field":"uw","type":"quantitative"},"color":{"field":"group","type":"nominal","legend":null}}},
     {"mark":{"type":"bar","fill":"white","strokeWidth":1},"encoding":{"x":{"field":"group","type":"nominal"},"y":{"field":"q1","type":"quantitative"},"y2":{"field":"q3"},"stroke":{"field":"group","type":"nominal","legend":null}}},
     {"mark":{"type":"tick","size":29,"thickness":1},"encoding":{"x":{"field":"group","type":"nominal"},"y":{"field":"med","type":"quantitative"},"color":{"field":"group","type":"nominal","legend":null}}},
     {"mark":{"type":"circle","size":5,"opacity":0.6},"encoding":{"x":{"field":"group","type":"nominal"},"y":{"field":"mean","type":"quantitative"},"color":{"field":"group","type":"nominal","legend":null}}},
     {"data":{"name":"outl"},"transform":[{"filter":"datum.t=='STAD' && datum.gene=='LAST'"}],"mark":{"type":"circle","size":5,"opacity":0.35},"encoding":{"x":{"field":"group","type":"nominal"},"y":{"field":"v","type":"quantitative"},"color":{"field":"group","type":"nominal","legend":null}}}
    ]},
    {"layer":[
     {"mark":{"type":"rule","color":"#555555","strokeWidth":1},"encoding":{"x":{"field":"group","type":"nominal"},"y":{"datum":1.016,"type":"quantitative","scale":{"domain":[0,1],"nice":false},"axis":null},"y2":{"datum":1.075}}},
     {"mark":{"type":"rule","color":"#555555","strokeWidth":1},"encoding":{"x":{"datum":"Normal","type":"nominal"},"x2":{"datum":"Tumor"},"y":{"datum":1.075,"type":"quantitative"}}},
     {"transform":[{"filter":"datum.group=='Normal'"}],"mark":{"type":"text","fontSize":7,"fontWeight":"bold","baseline":"alphabetic"},"encoding":{"y":{"datum":1.115,"type":"quantitative"},"text":{"field":"sig"}}}
    ]}
   ],"resolve":{"scale":{"y":"independent"}}},
   {"width":88,"height":93,"data":{"name":"stats"},"transform":[{"filter":"datum.t=='STAD' && datum.gene=='CCND1'"}],"layer":[
    {"layer":[
     {"mark":{"type":"rule","strokeWidth":1},"encoding":{"x":{"field":"group","type":"nominal","scale":{"domain":["Normal","Tumor"],"paddingInner":0.34,"paddingOuter":0.17},"axis":{"title":null,"labelExpr":"datum.value=='Normal' ? ['Normal','N = 32'] : ['Tumor','N = 375']"}},"y":{"field":"lw","type":"quantitative","scale":{"domain":[-100,600],"nice":false,"zero":false},"axis":{"values":[0,100,200,300,400,500,600],"format":".1~f","labelOverlap":false,"tickCount":20,"title":"Expression level of CCND1 (FPKM)","titleX":-30,"titleBaseline":"middle"}},"y2":{"field":"uw"},"color":{"field":"group","type":"nominal","legend":null}}},
     {"mark":{"type":"tick","size":6,"thickness":1},"encoding":{"x":{"field":"group","type":"nominal"},"y":{"field":"lw","type":"quantitative"},"color":{"field":"group","type":"nominal","legend":null}}},
     {"mark":{"type":"tick","size":6,"thickness":1},"encoding":{"x":{"field":"group","type":"nominal"},"y":{"field":"uw","type":"quantitative"},"color":{"field":"group","type":"nominal","legend":null}}},
     {"mark":{"type":"bar","fill":"white","strokeWidth":1},"encoding":{"x":{"field":"group","type":"nominal"},"y":{"field":"q1","type":"quantitative"},"y2":{"field":"q3"},"stroke":{"field":"group","type":"nominal","legend":null}}},
     {"mark":{"type":"tick","size":29,"thickness":1},"encoding":{"x":{"field":"group","type":"nominal"},"y":{"field":"med","type":"quantitative"},"color":{"field":"group","type":"nominal","legend":null}}},
     {"mark":{"type":"circle","size":5,"opacity":0.6},"encoding":{"x":{"field":"group","type":"nominal"},"y":{"field":"mean","type":"quantitative"},"color":{"field":"group","type":"nominal","legend":null}}},
     {"data":{"name":"outl"},"transform":[{"filter":"datum.t=='STAD' && datum.gene=='CCND1'"}],"mark":{"type":"circle","size":5,"opacity":0.35},"encoding":{"x":{"field":"group","type":"nominal"},"y":{"field":"v","type":"quantitative"},"color":{"field":"group","type":"nominal","legend":null}}}
    ]},
    {"layer":[
     {"mark":{"type":"rule","color":"#555555","strokeWidth":1},"encoding":{"x":{"field":"group","type":"nominal"},"y":{"datum":1.016,"type":"quantitative","scale":{"domain":[0,1],"nice":false},"axis":null},"y2":{"datum":1.075}}},
     {"mark":{"type":"rule","color":"#555555","strokeWidth":1},"encoding":{"x":{"datum":"Normal","type":"nominal"},"x2":{"datum":"Tumor"},"y":{"datum":1.075,"type":"quantitative"}}},
     {"transform":[{"filter":"datum.group=='Normal'"}],"mark":{"type":"text","fontSize":7,"fontWeight":"bold","baseline":"alphabetic"},"encoding":{"y":{"datum":1.115,"type":"quantitative"},"text":{"field":"sig"}}}
    ]}
   ],"resolve":{"scale":{"y":"independent"}}}
  ], "spacing": 46, "bounds": "flush"}
 ]}
], "spacing": 43},
{"spacing": 13, "vconcat": [
  {"width":222,"height":15,"data":{"name":"hdr"},"transform":[{"filter":"datum.id=='G'"}],"layer":[
   {"mark":{"type":"rect","fill":"#f9e0d0","stroke":"#333333","strokeWidth":1,"cornerRadius":3},"encoding":{"x":{"datum":0.108,"type":"quantitative","scale":{"domain":[0,1],"nice":false},"axis":null},"x2":{"datum":0.734},"y":{"datum":0,"type":"quantitative","scale":{"domain":[0,1],"nice":false},"axis":null},"y2":{"datum":1}}},
   {"mark":{"type":"text","fontSize":7,"fontWeight":"bold"},"encoding":{"x":{"datum":0.421,"type":"quantitative"},"y":{"datum":0.5,"type":"quantitative"},"text":{"field":"title"}}},
   {"mark":{"type":"text","fontSize":9,"fontWeight":"bold"},"encoding":{"x":{"datum":-0.1036,"type":"quantitative"},"y":{"datum":0.93,"type":"quantitative"},"text":{"field":"id"}}}
  ]},
  {"hconcat": [
   {"width":88,"height":93,"data":{"name":"stats"},"transform":[{"filter":"datum.t=='UCEC' && datum.gene=='LAST'"}],"layer":[
    {"layer":[
     {"mark":{"type":"rule","strokeWidth":1},"encoding":{"x":{"field":"group","type":"nominal","scale":{"domain":["Normal","Tumor"],"paddingInner":0.34,"paddingOuter":0.17},"axis":{"title":null,"labelExpr":"datum.value=='Normal' ? ['Normal','N = 23'] : ['Tumor','N = 543']"}},"y":{"field":"lw","type":"quantitative","scale":{"domain":[-9,50],"nice":false,"zero":false},"axis":{"values":[0,10,20,30,40,50],"format":".1~f","labelOverlap":false,"tickCount":20,"title":"Expression level of LAST (FPKM)","titleX":-30,"titleBaseline":"middle"}},"y2":{"field":"uw"},"color":{"field":"group","type":"nominal","legend":null}}},
     {"mark":{"type":"tick","size":6,"thickness":1},"encoding":{"x":{"field":"group","type":"nominal"},"y":{"field":"lw","type":"quantitative"},"color":{"field":"group","type":"nominal","legend":null}}},
     {"mark":{"type":"tick","size":6,"thickness":1},"encoding":{"x":{"field":"group","type":"nominal"},"y":{"field":"uw","type":"quantitative"},"color":{"field":"group","type":"nominal","legend":null}}},
     {"mark":{"type":"bar","fill":"white","strokeWidth":1},"encoding":{"x":{"field":"group","type":"nominal"},"y":{"field":"q1","type":"quantitative"},"y2":{"field":"q3"},"stroke":{"field":"group","type":"nominal","legend":null}}},
     {"mark":{"type":"tick","size":29,"thickness":1},"encoding":{"x":{"field":"group","type":"nominal"},"y":{"field":"med","type":"quantitative"},"color":{"field":"group","type":"nominal","legend":null}}},
     {"mark":{"type":"circle","size":5,"opacity":0.6},"encoding":{"x":{"field":"group","type":"nominal"},"y":{"field":"mean","type":"quantitative"},"color":{"field":"group","type":"nominal","legend":null}}},
     {"data":{"name":"outl"},"transform":[{"filter":"datum.t=='UCEC' && datum.gene=='LAST'"}],"mark":{"type":"circle","size":5,"opacity":0.35},"encoding":{"x":{"field":"group","type":"nominal"},"y":{"field":"v","type":"quantitative"},"color":{"field":"group","type":"nominal","legend":null}}}
    ]},
    {"layer":[
     {"mark":{"type":"rule","color":"#555555","strokeWidth":1},"encoding":{"x":{"field":"group","type":"nominal"},"y":{"datum":1.016,"type":"quantitative","scale":{"domain":[0,1],"nice":false},"axis":null},"y2":{"datum":1.075}}},
     {"mark":{"type":"rule","color":"#555555","strokeWidth":1},"encoding":{"x":{"datum":"Normal","type":"nominal"},"x2":{"datum":"Tumor"},"y":{"datum":1.075,"type":"quantitative"}}},
     {"transform":[{"filter":"datum.group=='Normal'"}],"mark":{"type":"text","fontSize":7,"fontWeight":"bold","baseline":"alphabetic"},"encoding":{"y":{"datum":1.115,"type":"quantitative"},"text":{"field":"sig"}}}
    ]}
   ],"resolve":{"scale":{"y":"independent"}}},
   {"width":88,"height":93,"data":{"name":"stats"},"transform":[{"filter":"datum.t=='UCEC' && datum.gene=='CCND1'"}],"layer":[
    {"layer":[
     {"mark":{"type":"rule","strokeWidth":1},"encoding":{"x":{"field":"group","type":"nominal","scale":{"domain":["Normal","Tumor"],"paddingInner":0.34,"paddingOuter":0.17},"axis":{"title":null,"labelExpr":"datum.value=='Normal' ? ['Normal','N = 23'] : ['Tumor','N = 543']"}},"y":{"field":"lw","type":"quantitative","scale":{"domain":[-100,500],"nice":false,"zero":false},"axis":{"values":[0,100,200,300,400,500],"format":".1~f","labelOverlap":false,"tickCount":20,"title":"Expression level of CCND1 (FPKM)","titleX":-30,"titleBaseline":"middle"}},"y2":{"field":"uw"},"color":{"field":"group","type":"nominal","legend":null}}},
     {"mark":{"type":"tick","size":6,"thickness":1},"encoding":{"x":{"field":"group","type":"nominal"},"y":{"field":"lw","type":"quantitative"},"color":{"field":"group","type":"nominal","legend":null}}},
     {"mark":{"type":"tick","size":6,"thickness":1},"encoding":{"x":{"field":"group","type":"nominal"},"y":{"field":"uw","type":"quantitative"},"color":{"field":"group","type":"nominal","legend":null}}},
     {"mark":{"type":"bar","fill":"white","strokeWidth":1},"encoding":{"x":{"field":"group","type":"nominal"},"y":{"field":"q1","type":"quantitative"},"y2":{"field":"q3"},"stroke":{"field":"group","type":"nominal","legend":null}}},
     {"mark":{"type":"tick","size":29,"thickness":1},"encoding":{"x":{"field":"group","type":"nominal"},"y":{"field":"med","type":"quantitative"},"color":{"field":"group","type":"nominal","legend":null}}},
     {"mark":{"type":"circle","size":5,"opacity":0.6},"encoding":{"x":{"field":"group","type":"nominal"},"y":{"field":"mean","type":"quantitative"},"color":{"field":"group","type":"nominal","legend":null}}},
     {"data":{"name":"outl"},"transform":[{"filter":"datum.t=='UCEC' && datum.gene=='CCND1'"}],"mark":{"type":"circle","size":5,"opacity":0.35},"encoding":{"x":{"field":"group","type":"nominal"},"y":{"field":"v","type":"quantitative"},"color":{"field":"group","type":"nominal","legend":null}}}
    ]},
    {"layer":[
     {"mark":{"type":"rule","color":"#555555","strokeWidth":1},"encoding":{"x":{"field":"group","type":"nominal"},"y":{"datum":1.016,"type":"quantitative","scale":{"domain":[0,1],"nice":false},"axis":null},"y2":{"datum":1.075}}},
     {"mark":{"type":"rule","color":"#555555","strokeWidth":1},"encoding":{"x":{"datum":"Normal","type":"nominal"},"x2":{"datum":"Tumor"},"y":{"datum":1.075,"type":"quantitative"}}},
     {"transform":[{"filter":"datum.group=='Normal'"}],"mark":{"type":"text","fontSize":7,"fontWeight":"bold","baseline":"alphabetic"},"encoding":{"y":{"datum":1.115,"type":"quantitative"},"text":{"field":"sig"}}}
    ]}
   ],"resolve":{"scale":{"y":"independent"}}}
  ], "spacing": 46, "bounds": "flush"}
]}
],
"config": {
 "view": {"stroke": null},
 "font": "Liberation Sans",
 "range": {"category": ["#ee3333", "#3535d8"]},
 "axis": {"grid": false, "domainColor": "#a0a0a0", "tickColor": "#a0a0a0", "labelColor": "#222222", "titleColor": "#222222", "labelFont": "Liberation Sans", "titleFont": "Liberation Sans", "labelFontWeight": "bold", "titleFontWeight": "bold", "labelFontSize": 6, "titleFontSize": 6.5, "labelOverlap": false},
 "axisX": {"labelAngle": 0, "labelFontSize": 7, "labelLineHeight": 8, "tickSize": 2, "labelPadding": 4},
 "axisY": {"tickSize": 3, "labelPadding": 4}
}
}
